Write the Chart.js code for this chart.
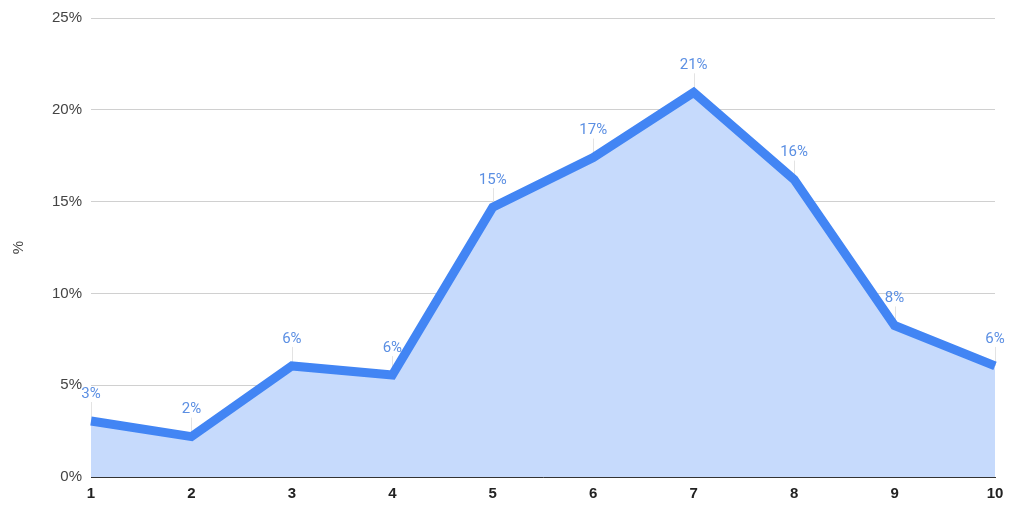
<!DOCTYPE html>
<html>
<head>
<meta charset="utf-8">
<script src="https://cdn.jsdelivr.net/npm/chart.js@4/dist/chart.umd.min.js"></script>
<style>
  html, body { margin: 0; padding: 0; background: #fff; }
  #wrap { width: 1009px; height: 507px; }
</style>
</head>
<body>
<div id="wrap"><canvas id="areaChart" width="1009" height="507"></canvas></div>
<script>
const categories = ['1', '2', '3', '4', '5', '6', '7', '8', '9', '10'];
const values = [3.05, 2.2, 6.05, 5.55, 14.7, 17.4, 20.95, 16.2, 8.25, 6.05];
const yTicks = [0, 5, 10, 15, 20, 25];

// etiquetas con leader lines (como en Sheets)
const labelPlugin = {
  id: 'pointLabels',
  beforeDatasetsDraw(chart) {
    const c = chart.ctx;
    const meta = chart.getDatasetMeta(0);
    c.save();
    c.strokeStyle = '#e3e3e3';
    c.lineWidth = 1;
    meta.data.forEach(pt => {
      c.beginPath();
      c.moveTo(Math.round(pt.x) + 0.5, pt.y);
      c.lineTo(Math.round(pt.x) + 0.5, pt.y - 19);
      c.stroke();
    });
    c.restore();
  },
  afterDatasetsDraw(chart) {
    const c = chart.ctx;
    const meta = chart.getDatasetMeta(0);
    c.save();
    c.fillStyle = '#5b8fe3';
    c.font = '15px Roboto';
    c.textAlign = 'center';
    c.textBaseline = 'middle';
    meta.data.forEach((pt, i) => {
      c.fillText(Math.round(values[i]) + '%', pt.x, pt.y - 27);
    });
    c.restore();
  }
};

const ctx = document.getElementById('areaChart').getContext('2d');
new Chart(ctx, {
  type: 'line',
  data: {
    labels: categories,
    datasets: [{
      data: values,
      borderColor: '#4285f4',
      backgroundColor: '#c6dafc',
      borderWidth: 9,
      fill: 'origin',
      tension: 0,
      pointRadius: 0,
      borderJoinStyle: 'miter'
    }]
  },
  options: {
    responsive: false,
    animation: false,
    layout: { padding: { top: 18, right: 0, left: 0, bottom: 0 } },
    plugins: {
      legend: { display: false },
      tooltip: { enabled: false }
    },
    scales: {
      x: {
        offset: false,
        grid: { display: false, drawTicks: false },
        border: { color: '#333', width: 1 },
        ticks: {
          color: '#222',
          font: { family: 'Liberation Sans', size: 15, weight: 'bold' },
          padding: 8,
          maxRotation: 0
        },
        afterFit(s) {
          s.height = 30;
          s.paddingLeft = 0;
          s.paddingRight = 14;
        }
      },
      y: {
        min: 0,
        max: 25,
        afterBuildTicks(s) { s.ticks = yTicks.map(v => ({ value: v })); },
        grid: { color: '#d0d0d0', drawTicks: false },
        border: { display: false },
        ticks: {
          color: '#444',
          font: { family: 'Liberation Sans', size: 15 },
          padding: 9,
          callback: v => v + '%'
        },
        title: {
          display: true,
          text: '%',
          color: '#444',
          font: { family: 'Liberation Sans', size: 15 },
          padding: { top: 10, bottom: 0 }
        },
        afterFit(s) { s.width = 91; }
      }
    }
  },
  plugins: [labelPlugin]
});
</script>
</body>
</html>
